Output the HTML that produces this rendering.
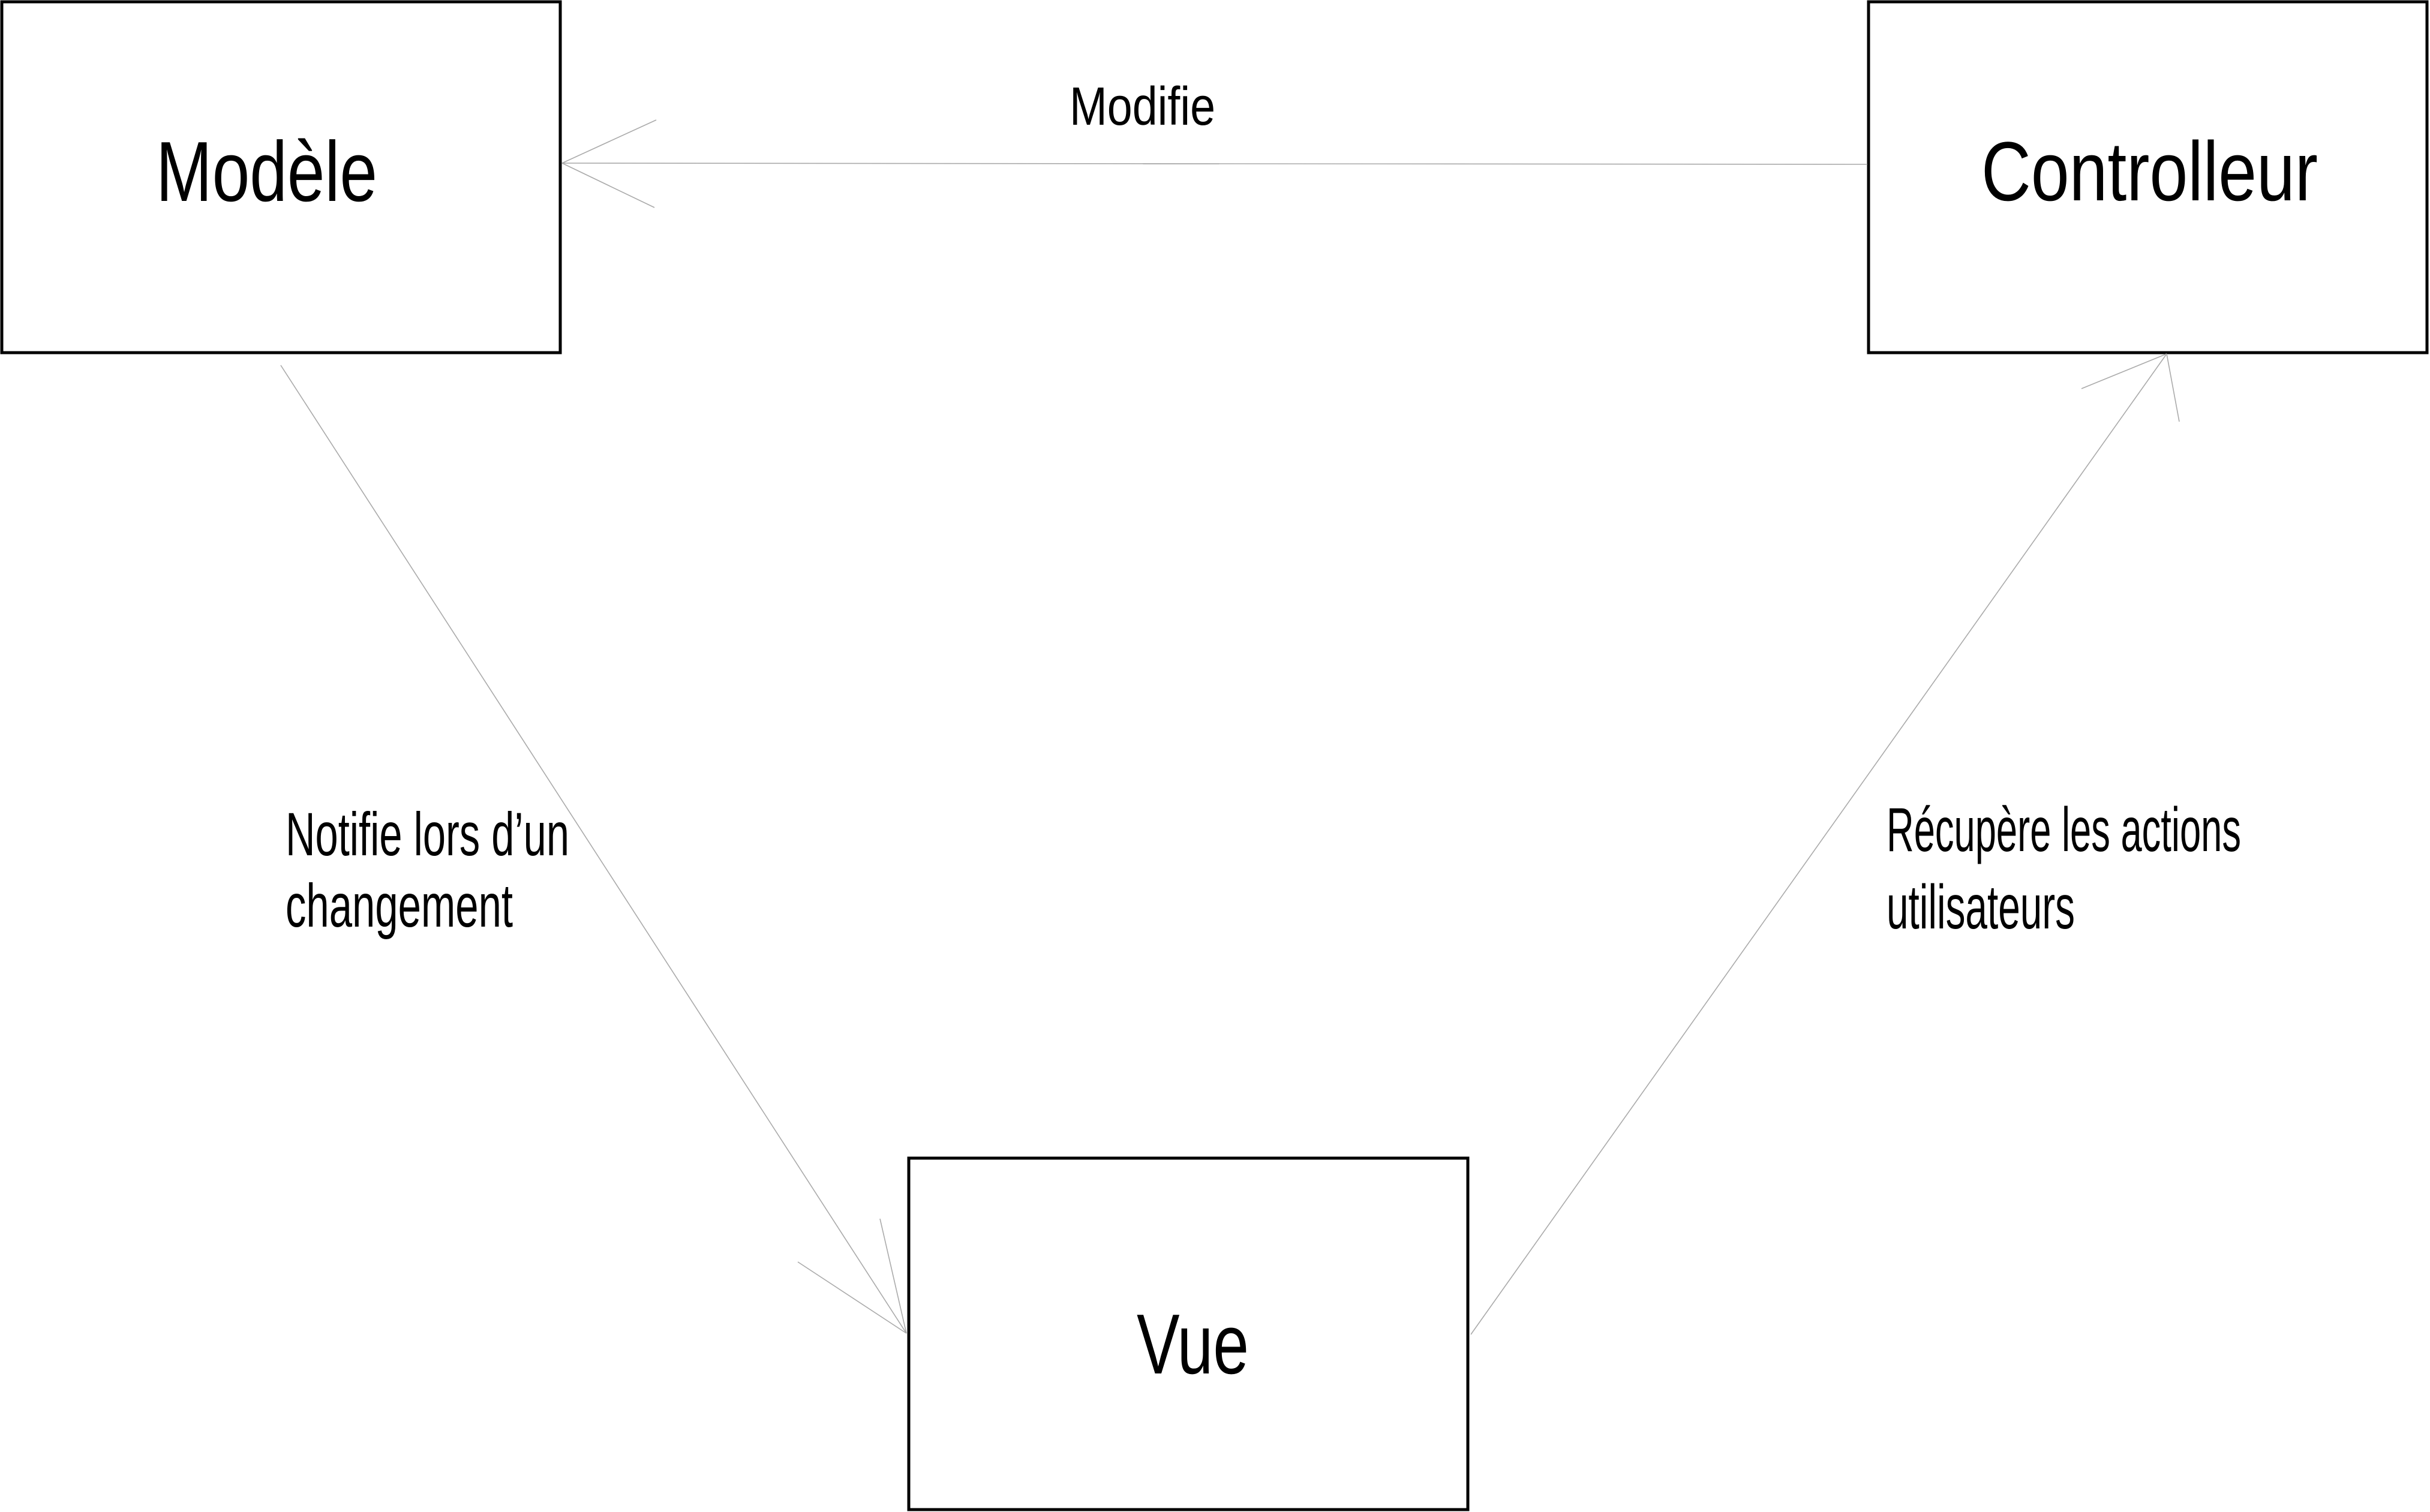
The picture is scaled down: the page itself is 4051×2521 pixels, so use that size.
<!DOCTYPE html>
<html><head><meta charset="utf-8"><style>
html,body{margin:0;padding:0;background:#fff;}
svg{display:block;}
text{font-family:"Liberation Sans",sans-serif;fill:#000;}
</style></head><body>
<svg width="4051" height="2521" viewBox="0 0 4051 2521" xmlns="http://www.w3.org/2000/svg">
<rect x="0" y="0" width="4051" height="2521" fill="#fff"/>
<g fill="none" stroke="#000" stroke-width="5">
<rect x="3" y="3" width="931" height="585"/>
<rect x="3115" y="3" width="931" height="585"/>
<rect x="1515" y="1931" width="932" height="586"/>
</g>
<g stroke="#aaa" stroke-width="1.6" fill="none">
<line x1="3113" y1="274" x2="937" y2="272"/>
<line x1="937" y1="272" x2="1094" y2="200"/>
<line x1="937" y1="272" x2="1091" y2="346"/>
<line x1="468" y1="609" x2="1511" y2="2223"/>
<line x1="1511" y1="2223" x2="1330" y2="2104"/>
<line x1="1511" y1="2223" x2="1467" y2="2032"/>
<line x1="2452" y1="2225" x2="3612" y2="590"/>
<line x1="3612" y1="590" x2="3470" y2="648"/>
<line x1="3612" y1="590" x2="3633" y2="703"/>
</g>
<text x="260" y="335" font-size="142" textLength="369" lengthAdjust="spacingAndGlyphs">Modèle</text>
<text x="3303" y="334" font-size="140" textLength="561" lengthAdjust="spacingAndGlyphs">Controlleur</text>
<text x="1895" y="2290" font-size="142" textLength="187" lengthAdjust="spacingAndGlyphs">Vue</text>
<text x="1783" y="208" font-size="90" textLength="243" lengthAdjust="spacingAndGlyphs">Modifie</text>
<text x="476" y="1426" font-size="102" textLength="473" lengthAdjust="spacingAndGlyphs">Notifie lors d’un</text>
<text x="476" y="1545" font-size="102" textLength="379" lengthAdjust="spacingAndGlyphs">changement</text>
<text x="3145" y="1419" font-size="104" textLength="591" lengthAdjust="spacingAndGlyphs">Récupère les actions</text>
<text x="3145" y="1548" font-size="104" textLength="314" lengthAdjust="spacingAndGlyphs">utilisateurs</text>
</svg>
</body></html>
